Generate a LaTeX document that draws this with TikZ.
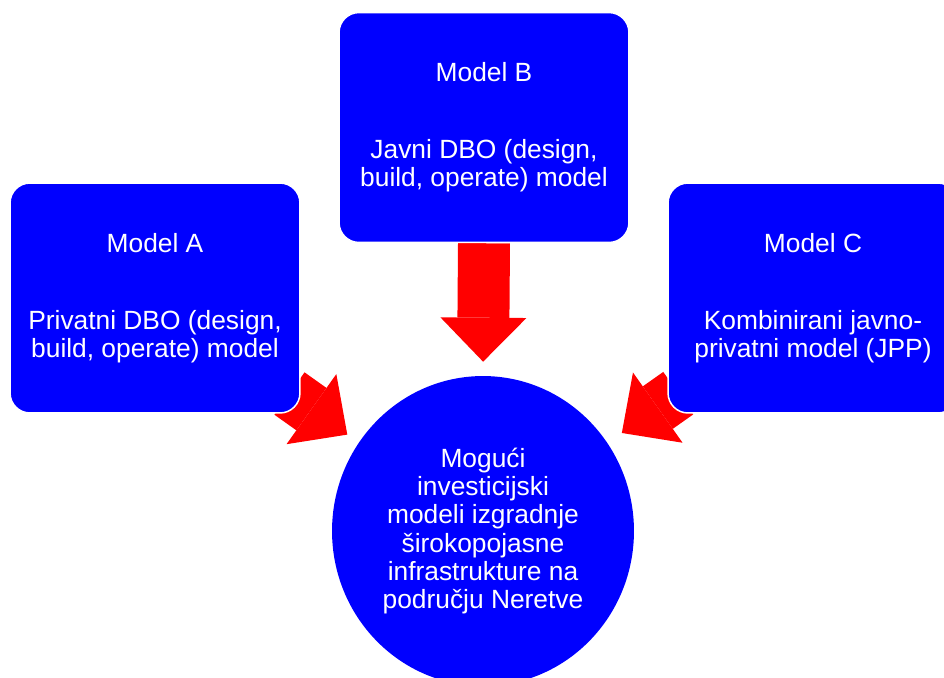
\documentclass[tikz,border=0pt]{standalone}
\usepackage{fontspec}
\setmainfont{Liberation Sans}
\usepackage{tikz}
\usetikzlibrary{arrows.meta, shapes.geometric, backgrounds}

\begin{document}
\begin{tikzpicture}[x=0.02cm, y=-0.02cm,
    modeltext/.style={text=white, align=center, font=\fontsize{15}{16}\selectfont},
    modelbox/.style={modeltext, draw=white, line width=0.03cm, fill=blue, rounded corners=0.4cm,
        minimum width=5.8cm, minimum height=4.6cm},
    hub/.style={modeltext, ellipse, fill=blue, inner sep=0pt, minimum width=6.04cm, minimum height=6.2cm},
    bigarrow/.style={red, line width=1.04cm, -{Triangle[width=1.72cm, length=0.88cm, line width=0pt]}}]
    \useasboundingbox (0,0) rectangle (944,677);
    \clip (0,0) rectangle (944,677);
    \node[modelbox] (modA) at (155,298) {Model A\\[27.8pt]Privatni DBO (design,\\build, operate) model};
    \node[modelbox] (modB) at (484,127.5) {Model B\\[27.8pt]Javni DBO (design,\\build, operate) model};
    \node[modelbox] (modC) at (813,298) {Model C\\[27.8pt]Kombinirani javno-\\privatni model (JPP)};
    \node[hub] (invest) at (483,531) {Mogući\\investicijski\\modeli izgradnje\\širokopojasne\\infrastrukture na\\području Neretve};
    \begin{scope}[on background layer]
        \draw[bigarrow, shorten >=0.28cm] (modB.south) -- (invest.north);
        \draw[bigarrow, shorten <=3.3cm, shorten >=3.33cm] (modA.center) -- (invest.center);
        \draw[bigarrow, shorten <=3.3cm, shorten >=3.4cm] (modC.center) -- (invest.center);
    \end{scope}
\end{tikzpicture}
\end{document}
